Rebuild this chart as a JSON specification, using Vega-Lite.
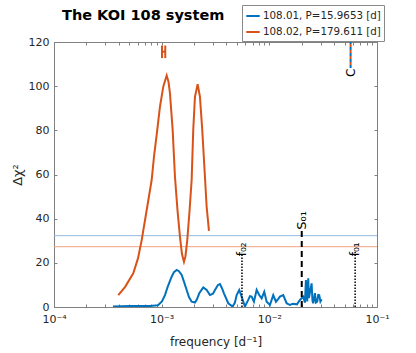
{
  "$schema": "https://vega.github.io/schema/vega-lite/v6.json",
  "width": 323,
  "height": 265,
  "autosize": {"type": "none"},
  "padding": {"left": 54, "top": 42, "right": 39, "bottom": 46},
  "background": "white",
  "title": {"text": "The KOI 108 system", "anchor": "start", "frame": "group", "fontSize": 14.5, "fontWeight": "bold", "font": "DejaVu Sans", "color": "#000000", "offset": 4, "baseline": "alphabetic", "dx": 8, "dy": 34},
  "config": {
    "view": {"stroke": "#808080"},
    "axis": {"domainColor": "#808080", "tickColor": "#808080", "labelColor": "#262626", "titleColor": "#262626", "labelFont": "DejaVu Sans", "titleFont": "DejaVu Sans", "labelFontSize": 11, "titleFontSize": 12, "titleFontWeight": "normal", "grid": false, "tickSize": -3}
  },
  "datasets": {
    "curves": [
      {"s": "108.02, P=179.611 [d]", "f": 0.0003954, "d": 5.4},
      {"s": "108.02, P=179.611 [d]", "f": 0.0004562, "d": 9},
      {"s": "108.02, P=179.611 [d]", "f": 0.0005448, "d": 15.3},
      {"s": "108.02, P=179.611 [d]", "f": 0.0006025, "d": 22},
      {"s": "108.02, P=179.611 [d]", "f": 0.0006522, "d": 30.3},
      {"s": "108.02, P=179.611 [d]", "f": 0.0007151, "d": 42},
      {"s": "108.02, P=179.611 [d]", "f": 0.0008075, "d": 57.5},
      {"s": "108.02, P=179.611 [d]", "f": 0.0008482, "d": 68},
      {"s": "108.02, P=179.611 [d]", "f": 0.0009101, "d": 80.2},
      {"s": "108.02, P=179.611 [d]", "f": 0.0009643, "d": 90.7},
      {"s": "108.02, P=179.611 [d]", "f": 0.001035, "d": 99.8},
      {"s": "108.02, P=179.611 [d]", "f": 0.001113, "d": 104.8},
      {"s": "108.02, P=179.611 [d]", "f": 0.001157, "d": 102},
      {"s": "108.02, P=179.611 [d]", "f": 0.001194, "d": 96.8},
      {"s": "108.02, P=179.611 [d]", "f": 0.001265, "d": 80.2},
      {"s": "108.02, P=179.611 [d]", "f": 0.001329, "d": 59},
      {"s": "108.02, P=179.611 [d]", "f": 0.001402, "d": 44},
      {"s": "108.02, P=179.611 [d]", "f": 0.001479, "d": 31.8},
      {"s": "108.02, P=179.611 [d]", "f": 0.001544, "d": 24},
      {"s": "108.02, P=179.611 [d]", "f": 0.001611, "d": 20.5},
      {"s": "108.02, P=179.611 [d]", "f": 0.001663, "d": 23},
      {"s": "108.02, P=179.611 [d]", "f": 0.001729, "d": 30.3},
      {"s": "108.02, P=179.611 [d]", "f": 0.001812, "d": 43},
      {"s": "108.02, P=179.611 [d]", "f": 0.001899, "d": 57.5},
      {"s": "108.02, P=179.611 [d]", "f": 0.001965, "d": 80.2},
      {"s": "108.02, P=179.611 [d]", "f": 0.002038, "d": 95.2},
      {"s": "108.02, P=179.611 [d]", "f": 0.002159, "d": 100.9},
      {"s": "108.02, P=179.611 [d]", "f": 0.002268, "d": 95.2},
      {"s": "108.02, P=179.611 [d]", "f": 0.002382, "d": 80.2},
      {"s": "108.02, P=179.611 [d]", "f": 0.002523, "d": 59},
      {"s": "108.02, P=179.611 [d]", "f": 0.002617, "d": 45.4},
      {"s": "108.02, P=179.611 [d]", "f": 0.00275, "d": 34.5},
      {"s": "108.01, P=15.9653 [d]", "f": 0.000353, "d": 0.2},
      {"s": "108.01, P=15.9653 [d]", "f": 0.0005078, "d": 0.4},
      {"s": "108.01, P=15.9653 [d]", "f": 0.0007789, "d": 0.5},
      {"s": "108.01, P=15.9653 [d]", "f": 0.000924, "d": 0.8},
      {"s": "108.01, P=15.9653 [d]", "f": 0.001006, "d": 2.5},
      {"s": "108.01, P=15.9653 [d]", "f": 0.001073, "d": 5.4},
      {"s": "108.01, P=15.9653 [d]", "f": 0.001144, "d": 9.5},
      {"s": "108.01, P=15.9653 [d]", "f": 0.001238, "d": 13.7},
      {"s": "108.01, P=15.9653 [d]", "f": 0.001301, "d": 15.8},
      {"s": "108.01, P=15.9653 [d]", "f": 0.001378, "d": 16.8},
      {"s": "108.01, P=15.9653 [d]", "f": 0.001448, "d": 16.2},
      {"s": "108.01, P=15.9653 [d]", "f": 0.001534, "d": 14.5},
      {"s": "108.01, P=15.9653 [d]", "f": 0.001611, "d": 11.5},
      {"s": "108.01, P=15.9653 [d]", "f": 0.001707, "d": 7.7},
      {"s": "108.01, P=15.9653 [d]", "f": 0.001793, "d": 4.5},
      {"s": "108.01, P=15.9653 [d]", "f": 0.001899, "d": 2.4},
      {"s": "108.01, P=15.9653 [d]", "f": 0.002038, "d": 2},
      {"s": "108.01, P=15.9653 [d]", "f": 0.002127, "d": 3.5},
      {"s": "108.01, P=15.9653 [d]", "f": 0.002234, "d": 6.2},
      {"s": "108.01, P=15.9653 [d]", "f": 0.002434, "d": 8.9},
      {"s": "108.01, P=15.9653 [d]", "f": 0.002617, "d": 7.7},
      {"s": "108.01, P=15.9653 [d]", "f": 0.002809, "d": 5.4},
      {"s": "108.01, P=15.9653 [d]", "f": 0.002995, "d": 6},
      {"s": "108.01, P=15.9653 [d]", "f": 0.003126, "d": 7.7},
      {"s": "108.01, P=15.9653 [d]", "f": 0.003332, "d": 10},
      {"s": "108.01, P=15.9653 [d]", "f": 0.003478, "d": 10.4},
      {"s": "108.01, P=15.9653 [d]", "f": 0.003631, "d": 8.5},
      {"s": "108.01, P=15.9653 [d]", "f": 0.003789, "d": 6.2},
      {"s": "108.01, P=15.9653 [d]", "f": 0.004153, "d": 1.7},
      {"s": "108.01, P=15.9653 [d]", "f": 0.004562, "d": 0.2},
      {"s": "108.01, P=15.9653 [d]", "f": 0.004793, "d": 2},
      {"s": "108.01, P=15.9653 [d]", "f": 0.00497, "d": 5.4},
      {"s": "108.01, P=15.9653 [d]", "f": 0.005254, "d": 7.7},
      {"s": "108.01, P=15.9653 [d]", "f": 0.005531, "d": 4.7},
      {"s": "108.01, P=15.9653 [d]", "f": 0.005934, "d": 0.2},
      {"s": "108.01, P=15.9653 [d]", "f": 0.006369, "d": 3.2},
      {"s": "108.01, P=15.9653 [d]", "f": 0.006606, "d": 4.9},
      {"s": "108.01, P=15.9653 [d]", "f": 0.00685, "d": 4.7},
      {"s": "108.01, P=15.9653 [d]", "f": 0.007194, "d": 2.4},
      {"s": "108.01, P=15.9653 [d]", "f": 0.007622, "d": 7.7},
      {"s": "108.01, P=15.9653 [d]", "f": 0.008058, "d": 5.4},
      {"s": "108.01, P=15.9653 [d]", "f": 0.008483, "d": 3.9},
      {"s": "108.01, P=15.9653 [d]", "f": 0.008967, "d": 6.9},
      {"s": "108.01, P=15.9653 [d]", "f": 0.009439, "d": 2.4},
      {"s": "108.01, P=15.9653 [d]", "f": 0.01013, "d": 0.9},
      {"s": "108.01, P=15.9653 [d]", "f": 0.01087, "d": 5.4},
      {"s": "108.01, P=15.9653 [d]", "f": 0.01152, "d": 2.4},
      {"s": "108.01, P=15.9653 [d]", "f": 0.01202, "d": 3.5},
      {"s": "108.01, P=15.9653 [d]", "f": 0.01254, "d": 4.7},
      {"s": "108.01, P=15.9653 [d]", "f": 0.01346, "d": 5.4},
      {"s": "108.01, P=15.9653 [d]", "f": 0.01447, "d": 1.7},
      {"s": "108.01, P=15.9653 [d]", "f": 0.01554, "d": 0.9},
      {"s": "108.01, P=15.9653 [d]", "f": 0.01656, "d": 1.5},
      {"s": "108.01, P=15.9653 [d]", "f": 0.01804, "d": 1.2},
      {"s": "108.01, P=15.9653 [d]", "f": 0.01924, "d": 3.2},
      {"s": "108.01, P=15.9653 [d]", "f": 0.02064, "d": 4.7},
      {"s": "108.01, P=15.9653 [d]", "f": 0.02141, "d": 2},
      {"s": "108.01, P=15.9653 [d]", "f": 0.02187, "d": 12.2},
      {"s": "108.01, P=15.9653 [d]", "f": 0.02249, "d": 2.5},
      {"s": "108.01, P=15.9653 [d]", "f": 0.02297, "d": 13},
      {"s": "108.01, P=15.9653 [d]", "f": 0.02332, "d": 4},
      {"s": "108.01, P=15.9653 [d]", "f": 0.02382, "d": 6.5},
      {"s": "108.01, P=15.9653 [d]", "f": 0.0247, "d": 10.7},
      {"s": "108.01, P=15.9653 [d]", "f": 0.02513, "d": 3},
      {"s": "108.01, P=15.9653 [d]", "f": 0.02556, "d": 1.7},
      {"s": "108.01, P=15.9653 [d]", "f": 0.02651, "d": 6.3},
      {"s": "108.01, P=15.9653 [d]", "f": 0.02708, "d": 2},
      {"s": "108.01, P=15.9653 [d]", "f": 0.02784, "d": 2.4},
      {"s": "108.01, P=15.9653 [d]", "f": 0.02844, "d": 5.5},
      {"s": "108.01, P=15.9653 [d]", "f": 0.02906, "d": 5.4},
      {"s": "108.01, P=15.9653 [d]", "f": 0.02982, "d": 2.5},
      {"s": "108.01, P=15.9653 [d]", "f": 0.03059, "d": 3.5}
    ],
    "marks": [
      {"name": "f02", "f": 0.005568, "lo": 0, "hi": 24.6},
      {"name": "f01", "f": 0.06264, "lo": 0, "hi": 25},
      {"name": "S01", "f": 0.02, "lo": 0, "hi": 36.3},
      {"name": "C", "f": 0.05686, "lo": 108.2, "hi": 120}
    ],
    "labels": [
      {"name": "f02", "t": "f₀₂", "f": 0.005568, "d": 23},
      {"name": "f01", "t": "f₀₁", "f": 0.06264, "d": 23},
      {"name": "S01", "t": "S₀₁", "f": 0.02, "d": 35},
      {"name": "C", "t": "C", "f": 0.05686, "d": 108}
    ],
    "hmark": [
      {"f": 0.001007, "f2": 0.001007, "lo": 112.7, "hi": 118.4},
      {"f": 0.00108, "f2": 0.00108, "lo": 112.7, "hi": 118.4},
      {"f": 0.001007, "f2": 0.00108, "lo": 115.6, "hi": 115.6}
    ],
    "thresholds": [
      {"s": "108.01", "d": 32.3},
      {"s": "108.02", "d": 27.3}
    ]
  },
  "resolve": {"axis": {"x": "independent", "y": "independent"}},
  "layer": [
    {
      "data": {"name": "thresholds"},
      "transform": [{"filter": "datum.s == '108.01'"}],
      "mark": {"type": "rule", "strokeWidth": 1, "color": "#8fb9dd"},
      "encoding": {
        "y": {"field": "d", "type": "quantitative", "scale": {"domain": [0, 120], "nice": false}, "axis": null}
      }
    },
    {
      "data": {"name": "thresholds"},
      "transform": [{"filter": "datum.s == '108.02'"}],
      "mark": {"type": "rule", "strokeWidth": 1, "color": "#efa27e"},
      "encoding": {
        "y": {"field": "d", "type": "quantitative", "axis": null}
      }
    },
    {
      "data": {"name": "curves"},
      "mark": {"type": "line", "strokeWidth": 2, "clip": true},
      "encoding": {
        "x": {"field": "f", "type": "quantitative", "scale": {"type": "log", "domain": [0.0001, 0.1], "nice": false},
          "axis": {"orient": "bottom", "title": "frequency [d⁻¹]", "values": [0.0001, 0.0002, 0.0003, 0.0004, 0.0005, 0.0006, 0.0007, 0.0008, 0.0009, 0.001, 0.002, 0.003, 0.004, 0.005, 0.006, 0.007, 0.008, 0.009, 0.01, 0.02, 0.03, 0.04, 0.05, 0.06, 0.07, 0.08, 0.09, 0.1],
            "labelExpr": "abs(log(datum.value)/LN10 - round(log(datum.value)/LN10)) < 0.01 ? '10⁻' + ['', '¹', '²', '³', '⁴'][-round(log(datum.value)/LN10)] : ''",
            "labelPadding": 9, "labelFlush": false, "labelOverlap": false, "titlePadding": 12}},
        "y": {"field": "d", "type": "quantitative", "scale": {"domain": [0, 120], "nice": false},
          "axis": {"orient": "left", "title": "Δχ²", "values": [0, 20, 40, 60, 80, 100, 120], "labelPadding": 8, "titlePadding": 4, "titleFontSize": 13}},
        "color": {"field": "s", "type": "nominal", "scale": {"domain": ["108.01, P=15.9653 [d]", "108.02, P=179.611 [d]"], "range": ["#0072BD", "#D95319"]},
          "legend": {"orient": "none", "legendX": 188, "legendY": -37, "title": null, "fillColor": "white", "strokeColor": "#8a8a8a", "padding": 3, "symbolType": "stroke", "symbolStrokeWidth": 2, "symbolSize": 180, "labelFontSize": 10.3, "labelFont": "DejaVu Sans", "labelColor": "#262626", "rowPadding": 2, "labelOffset": 2}}
      }
    },
    {
      "data": {"name": "marks"},
      "transform": [{"filter": "datum.name == 'f02' || datum.name == 'f01'"}],
      "mark": {"type": "rule", "color": "black", "strokeWidth": 1.5, "strokeDash": [1.5, 1.5]},
      "encoding": {
        "x": {"field": "f", "type": "quantitative", "axis": {"orient": "top", "labels": false, "title": null, "values": [0.0001, 0.0002, 0.0003, 0.0004, 0.0005, 0.0006, 0.0007, 0.0008, 0.0009, 0.001, 0.002, 0.003, 0.004, 0.005, 0.006, 0.007, 0.008, 0.009, 0.01, 0.02, 0.03, 0.04, 0.05, 0.06, 0.07, 0.08, 0.09, 0.1]}},
        "y": {"field": "lo", "type": "quantitative", "axis": {"orient": "right", "labels": false, "title": null, "values": [0, 20, 40, 60, 80, 100, 120]}},
        "y2": {"field": "hi"}
      }
    },
    {
      "data": {"name": "marks"},
      "transform": [{"filter": "datum.name == 'S01'"}],
      "mark": {"type": "rule", "color": "black", "strokeWidth": 2, "strokeDash": [6, 4]},
      "encoding": {
        "x": {"field": "f", "type": "quantitative", "axis": null},
        "y": {"field": "lo", "type": "quantitative", "axis": null},
        "y2": {"field": "hi"}
      }
    },
    {
      "data": {"name": "marks"},
      "transform": [{"filter": "datum.name == 'C'"}],
      "mark": {"type": "rule", "color": "#0072BD", "strokeWidth": 2, "strokeDash": [3, 3]},
      "encoding": {
        "x": {"field": "f", "type": "quantitative", "axis": null},
        "y": {"field": "lo", "type": "quantitative", "axis": null},
        "y2": {"field": "hi"}
      }
    },
    {
      "data": {"name": "marks"},
      "transform": [{"filter": "datum.name == 'C'"}],
      "mark": {"type": "rule", "color": "#D95319", "strokeWidth": 2, "strokeDash": [3, 3], "strokeDashOffset": 3},
      "encoding": {
        "x": {"field": "f", "type": "quantitative", "axis": null},
        "y": {"field": "lo", "type": "quantitative", "axis": null},
        "y2": {"field": "hi"}
      }
    },
    {
      "data": {"name": "hmark"},
      "mark": {"type": "rule", "color": "#D95319", "strokeWidth": 2},
      "encoding": {
        "x": {"field": "f", "type": "quantitative", "axis": null},
        "x2": {"field": "f2"},
        "y": {"field": "lo", "type": "quantitative", "axis": null},
        "y2": {"field": "hi"}
      }
    },
    {
      "data": {"name": "labels"},
      "transform": [{"filter": "datum.name == 'f02' || datum.name == 'f01'"}],
      "mark": {"type": "text", "angle": 270, "align": "left", "baseline": "middle", "fontSize": 12, "font": "DejaVu Sans", "color": "black"},
      "encoding": {
        "x": {"field": "f", "type": "quantitative", "axis": null},
        "y": {"field": "d", "type": "quantitative", "axis": null},
        "text": {"field": "t"}
      }
    },
    {
      "data": {"name": "labels"},
      "transform": [{"filter": "datum.name == 'S01'"}],
      "mark": {"type": "text", "angle": 270, "align": "left", "baseline": "middle", "fontSize": 13, "font": "DejaVu Sans", "color": "black"},
      "encoding": {
        "x": {"field": "f", "type": "quantitative", "axis": null},
        "y": {"field": "d", "type": "quantitative", "axis": null},
        "text": {"field": "t"}
      }
    },
    {
      "data": {"name": "labels"},
      "transform": [{"filter": "datum.name == 'C'"}],
      "mark": {"type": "text", "angle": 270, "align": "right", "baseline": "middle", "fontSize": 12, "font": "DejaVu Sans", "color": "black"},
      "encoding": {
        "x": {"field": "f", "type": "quantitative", "axis": null},
        "y": {"field": "d", "type": "quantitative", "axis": null},
        "text": {"field": "t"}
      }
    }
  ]
}
